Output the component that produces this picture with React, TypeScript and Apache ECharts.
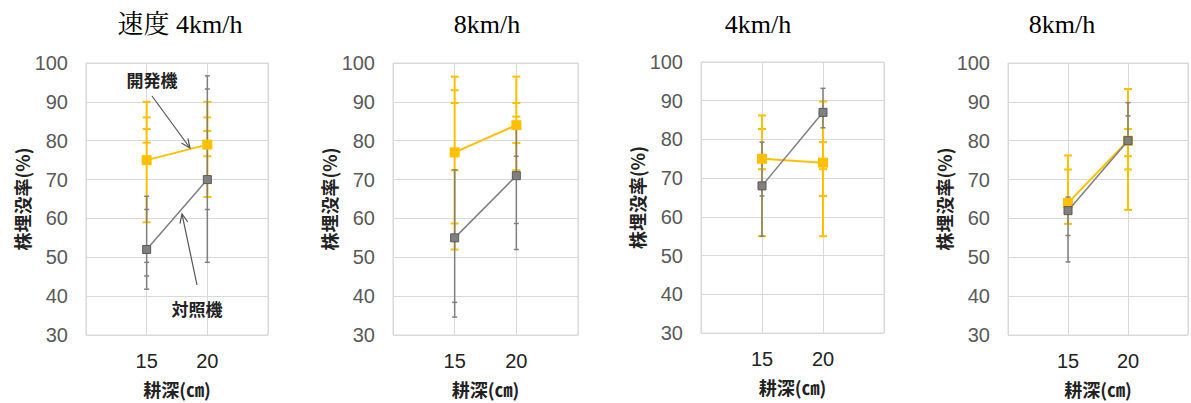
import React, { useEffect, useRef } from "react";
import * as echarts from "echarts";

const depthCategories = [15, 20];
const panelTitles = ["速度 4km/h", "8km/h", "4km/h", "8km/h"];
const yMin = 30;
const yMax = 100;
const yStep = 10;
const yAxisName = "株埋没率(%)";
const xAxisName = "耕深(㎝)";
const devName = "開発機";
const ctrlName = "対照機";

// means per panel, [15cm, 20cm]
const devMeans = [
  [75, 79],
  [77, 84],
  [75, 74],
  [64, 80],
];
const ctrlMeans = [
  [52, 70],
  [55, 71],
  [68, 87],
  [62, 80],
];
// error-bar cap levels per panel, per depth
const devCaps = [
  [[90, 86, 83, 79.5, 59], [90, 86, 82.5, 76, 65.5]],
  [[96.5, 93, 89.7, 72.4, 58.7, 52], [96.5, 89.7, 86.2, 79.4, 72.4]],
  [[86.2, 82.7, 72.3, 55], [89.8, 79.3, 72.3, 65.4, 55]],
  [[76.2, 72.6, 58.6], [93.3, 83, 76, 72.6, 62.2]],
];
const ctrlCaps = [
  [[65.7, 62.3, 48.7, 45.2, 41.8], [96.7, 93.3, 62.3, 48.7]],
  [[72.5, 38.4, 34.6], [83, 76, 58.7, 52]],
  [[79.3, 65.4, 55], [93.2, 83]],
  [[65.5, 55.6, 48.8], [89.8, 86.4]],
];

const grids = [
  { left: 86, top: 63, width: 182, height: 273 },
  { left: 393, top: 63, width: 185, height: 273 },
  { left: 701, top: 62, width: 183, height: 271 },
  { left: 1008, top: 63, width: 182, height: 274 },
];

const ORANGE = "#FFC000";
const GRAY = "#7F7F7F";
const NUM_FONT = "'Liberation Sans Narrow', 'Liberation Sans', Arial, sans-serif";
const CJK_FONT = "'Noto Sans CJK JP', sans-serif";

function errorData(means: number[], caps: number[][]) {
  const out: number[][] = [];
  depthCategories.forEach((d, i) => {
    const all = caps[i].concat([means[i]]);
    out.push([d, Math.min(...all), Math.max(...all)]);
    caps[i].forEach((c) => out.push([d, c, c]));
  });
  return out;
}

function errorSeries(idx: number, color: string, means: number[], caps: number[][], lw: number, capW: number, z: number) {
  return {
    type: "custom",
    xAxisIndex: idx,
    yAxisIndex: idx,
    z,
    silent: true,
    data: errorData(means, caps),
    renderItem: (params: any, api: any) => {
      const x = api.value(0);
      const lo = api.value(1);
      const hi = api.value(2);
      const p1 = api.coord([x, lo]);
      const p2 = api.coord([x, hi]);
      if (lo === hi) {
        return {
          type: "line",
          shape: { x1: p1[0] - capW / 2, y1: p1[1], x2: p1[0] + capW / 2, y2: p1[1] },
          style: { stroke: color, lineWidth: lw },
        };
      }
      return {
        type: "line",
        shape: { x1: p1[0], y1: p1[1], x2: p2[0], y2: p2[1] },
        style: { stroke: color, lineWidth: lw },
      };
    },
  };
}

function arrow(x1: number, y1: number, x2: number, y2: number) {
  const dx = x2 - x1;
  const dy = y2 - y1;
  const L = Math.sqrt(dx * dx + dy * dy);
  const ux = dx / L;
  const uy = dy / L;
  const bx = x2 - 9 * ux;
  const by = y2 - 9 * uy;
  const px = -uy * 4;
  const py = ux * 4;
  return [
    { type: "line", shape: { x1, y1, x2, y2 }, style: { stroke: "#555", lineWidth: 1.2 }, z: 100 },
    {
      type: "polyline",
      shape: { points: [[bx + px, by + py], [x2, y2], [bx - px, by - py]] },
      style: { stroke: "#555", lineWidth: 1.2, fill: "none" },
      z: 100,
    },
  ];
}

export default function App() {
  const ref = useRef<HTMLDivElement>(null);
  useEffect(() => {
    document.body.style.margin = "0";
    const chart = echarts.init(ref.current!, null, { renderer: "svg" });
    const series: any[] = [];
    grids.forEach((g, i) => {
      series.push(errorSeries(i, ORANGE, devMeans[i], devCaps[i], 2, 8, 2));
      series.push(errorSeries(i, GRAY, ctrlMeans[i], ctrlCaps[i], 1.5, 5, 3));
      series.push({
        type: "line",
        name: devName,
        xAxisIndex: i,
        yAxisIndex: i,
        data: depthCategories.map((d, j) => [d, devMeans[i][j]]),
        symbol: "rect",
        symbolSize: 10,
        lineStyle: { color: ORANGE, width: 2 },
        itemStyle: { color: ORANGE },
        z: 4,
      });
      series.push({
        type: "line",
        name: ctrlName,
        xAxisIndex: i,
        yAxisIndex: i,
        data: depthCategories.map((d, j) => [d, ctrlMeans[i][j]]),
        symbol: "rect",
        symbolSize: 8,
        lineStyle: { color: GRAY, width: 1.5 },
        itemStyle: { color: "#808080", borderColor: "#5a5a5a", borderWidth: 1 },
        z: 5,
      });
    });
    const titleCenters = [180, 487, 758, 1062];
    const graphics: any[] = panelTitles.map((t, i) => ({
      type: "text",
      x: titleCenters[i],
      y: 24,
      style: {
        text: t,
        fill: "#000",
        font: "26px 'Liberation Serif', 'Noto Serif CJK JP', serif",
        textAlign: "center",
        textVerticalAlign: "middle",
      },
    }));
    graphics.push({
      type: "text",
      x: 152,
      y: 79,
      z: 100,
      style: { text: devName, fill: "#222", font: `bold 17px ${CJK_FONT}`, textAlign: "center", textVerticalAlign: "middle" },
    });
    graphics.push({
      type: "text",
      x: 197,
      y: 308,
      z: 100,
      style: { text: ctrlName, fill: "#222", font: `bold 17px ${CJK_FONT}`, textAlign: "center", textVerticalAlign: "middle" },
    });
    graphics.push(...arrow(152, 96, 190, 148));
    graphics.push(...arrow(197, 285, 182, 214));

    chart.setOption({
      animation: false,
      grid: grids.map((g) => ({ ...g, show: true, borderColor: "#d9d9d9", borderWidth: 1, backgroundColor: "#fff" })),
      xAxis: grids.map((g, i) => ({
        type: "value",
        gridIndex: i,
        min: 10,
        max: 25,
        interval: 5,
        name: xAxisName,
        nameLocation: "middle",
        nameGap: 45,
        nameTextStyle: { color: "#222", fontSize: 18, fontFamily: CJK_FONT, fontWeight: "bold" },
        axisLine: { show: false },
        axisTick: { show: false },
        splitLine: { show: true, lineStyle: { color: "#d9d9d9", width: 1 } },
        axisLabel: {
          margin: 16,
          color: "#222",
          fontSize: 20,
          fontFamily: NUM_FONT,
          formatter: (v: number) => (depthCategories.includes(v) ? String(v) : ""),
        },
      })),
      yAxis: grids.map((g, i) => ({
        type: "value",
        gridIndex: i,
        min: yMin,
        max: yMax,
        interval: yStep,
        name: yAxisName,
        nameLocation: "middle",
        nameGap: 55,
        nameRotate: 90,
        nameTextStyle: { color: "#222", fontSize: 18, fontFamily: CJK_FONT, fontWeight: "bold" },
        axisLine: { show: false },
        axisTick: { show: false },
        splitLine: { show: true, lineStyle: { color: "#d9d9d9", width: 1 } },
        axisLabel: { margin: 18, color: "#595959", fontSize: 20, fontFamily: NUM_FONT },
      })),
      series,
      graphic: graphics,
    });
    return () => chart.dispose();
  }, []);
  return <div ref={ref} style={{ width: 1191, height: 403, background: "#fff" }} />;
}
